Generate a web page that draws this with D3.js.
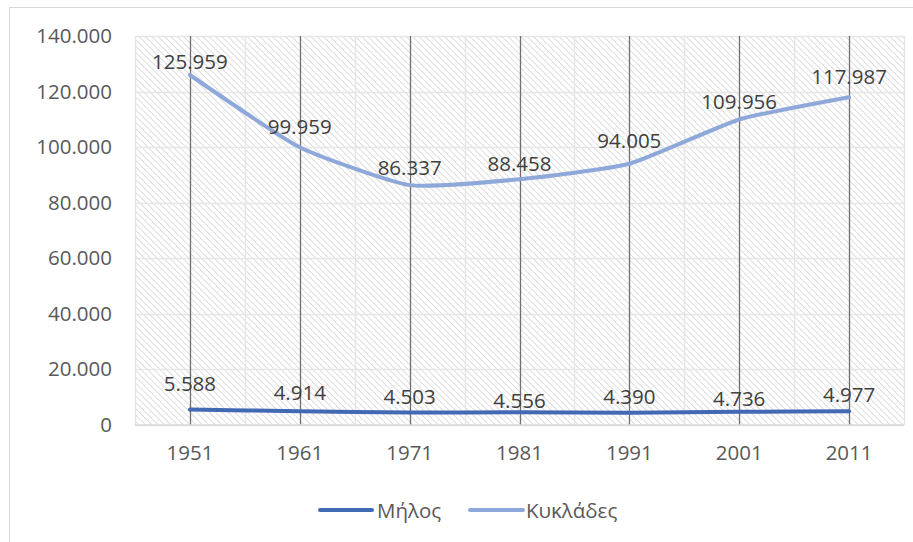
<!DOCTYPE html>
<html><head><meta charset="utf-8">
<script src="https://cdn.jsdelivr.net/npm/d3@7"></script>
<style>
body{margin:0;background:#fff;}
text{font-family:"Open Sans",sans-serif;}
</style></head>
<body>
<svg id="c" width="913" height="542"></svg>
<script>
const years = ["1951","1961","1971","1981","1991","2001","2011"];
const milos = [5588, 4914, 4503, 4556, 4390, 4736, 4977];
const kyklades = [125959, 99959, 86337, 88458, 94005, 109956, 117987];
const yTicks = [0, 20000, 40000, 60000, 80000, 100000, 120000, 140000];
const seriesNames = ["Μήλος", "Κυκλάδες"];
// label nudges (layout, px above point)
const milosNudge = [26, 19, 16, 12, 17, 14, 17];
const kykNudge = [14, 21, 18, 16, 24, 18, 21];

const svg = d3.select("#c");
const L = 135, R = 904, T = 36, B = 425;
const FS = "20.5px";
const x = d3.scaleBand().domain(years).range([L, R]);
const y = d3.scaleLinear().domain([0, 140000]).range([B, T]);
const fmt = v => v === 0 ? "0" : d3.format(",.0f")(v).replace(/,/g, ".");

svg.append("rect").attr("x", 9.5).attr("y", 7.5).attr("width", 920).attr("height", 560)
  .attr("fill", "#fff").attr("stroke", "#d9d9d9").attr("stroke-width", 1);

const defs = svg.append("defs");
const pat = defs.append("pattern").attr("id", "hatch").attr("patternUnits", "userSpaceOnUse")
  .attr("width", 4.5).attr("height", 4.5).attr("patternTransform", "rotate(-45)");
pat.append("rect").attr("width", 4.5).attr("height", 4.5).attr("fill", "#fff");
pat.append("line").attr("x1", 0).attr("y1", 0).attr("x2", 0).attr("y2", 4.5)
  .attr("stroke", "#d6d6d6").attr("stroke-width", 1.6);
svg.append("rect").attr("x", L).attr("y", T).attr("width", R - L).attr("height", B - T)
  .attr("fill", "url(#hatch)");

svg.append("g").selectAll("line").data(yTicks).join("line")
  .attr("x1", L).attr("x2", R).attr("y1", d => Math.round(y(d)) + 0.5).attr("y2", d => Math.round(y(d)) + 0.5)
  .attr("stroke", "#e6e6e6").attr("stroke-width", 1.5);
const bounds = years.map(d => x(d)).concat([R]);
svg.append("g").selectAll("line").data(bounds).join("line")
  .attr("x1", d => Math.round(d) + 0.5).attr("x2", d => Math.round(d) + 0.5).attr("y1", T).attr("y2", B)
  .attr("stroke", "#e6e6e6").attr("stroke-width", 1.5);
svg.append("g").selectAll("line").data(years).join("line")
  .attr("x1", d => Math.round(x(d) + x.bandwidth() / 2) + 0.5).attr("x2", d => Math.round(x(d) + x.bandwidth() / 2) + 0.5)
  .attr("y1", T).attr("y2", B).attr("stroke", "#707070").attr("stroke-width", 1.3);
svg.append("line").attr("x1", L).attr("x2", R).attr("y1", B).attr("y2", B)
  .attr("stroke", "#d9d9d9").attr("stroke-width", 1.5);

const yAxis = d3.axisLeft(y).tickValues(yTicks).tickFormat(fmt).tickSize(0).tickPadding(23);
const gy = svg.append("g").attr("transform", `translate(${L},0)`).call(yAxis);
gy.select(".domain").remove();
gy.selectAll("text").attr("fill", "#595959").style("font-size", FS).style("font-family", "Open Sans");

const xAxis = d3.axisBottom(x).tickSize(0).tickPadding(20);
const gx = svg.append("g").attr("transform", `translate(0,${B})`).call(xAxis);
gx.select(".domain").remove();
gx.selectAll("text").attr("fill", "#595959").style("font-size", FS).style("font-family", "Open Sans");

const cx = d => x(d) + x.bandwidth() / 2;
const line = d3.line().x((d, i) => cx(years[i])).y(d => y(d)).curve(d3.curveCardinal.tension(0.5));
const colors = ["#4169b4", "#8fa8da"];
[milos, kyklades].forEach((s, k) => {
  svg.append("path").datum(s).attr("d", line).attr("fill", "none")
    .attr("stroke", colors[k]).attr("stroke-width", 4).attr("stroke-linecap", "round");
});
[[milos, milosNudge], [kyklades, kykNudge]].forEach(([s, n]) => {
  svg.append("g").selectAll("text").data(s).join("text")
    .attr("x", (d, i) => cx(years[i])).attr("y", (d, i) => y(d) - n[i])
    .attr("text-anchor", "middle").attr("dominant-baseline", "central")
    .attr("fill", "#404040").style("font-size", FS).text(d => fmt(d));
});

const leg = [{x1: 320, x2: 372, tx: 377}, {x1: 470, x2: 523, tx: 526}];
leg.forEach((p, k) => {
  svg.append("line").attr("x1", p.x1).attr("x2", p.x2).attr("y1", 510).attr("y2", 510)
    .attr("stroke", colors[k]).attr("stroke-width", 4).attr("stroke-linecap", "round");
  svg.append("text").attr("x", p.tx).attr("y", 510).attr("dominant-baseline", "central")
    .attr("fill", "#595959").style("font-size", FS).text(seriesNames[k]);
});
</script>
</body></html>
